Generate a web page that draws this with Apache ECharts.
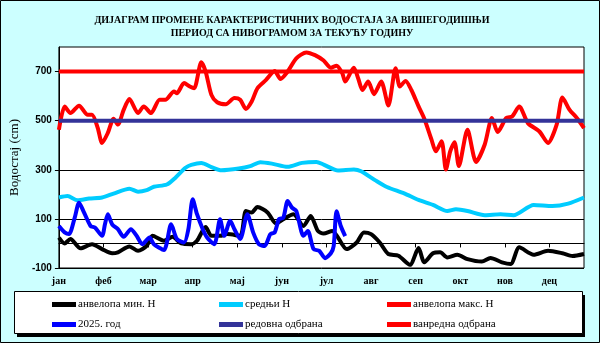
<!DOCTYPE html>
<html>
<head>
<meta charset="utf-8">
<script src="https://cdn.jsdelivr.net/npm/echarts@6/dist/echarts.min.js"></script>
<style>
html,body{margin:0;padding:0;background:#ccffff;}
#c{width:600px;height:343px;}
</style>
</head>
<body>
<div id="c"></div>
<script>
// ---- data ----
const titleLines = ['ДИЈАГРАМ ПРОМЕНЕ КАРАКТЕРИСТИЧНИХ ВОДОСТАЈА ЗА ВИШЕГОДИШЊИ', 'ПЕРИОД СА НИВОГРАМОМ ЗА ТЕКУЋУ ГОДИНУ'];
const yAxisName = 'Водостај (cm)';
const months = ['јан','феб','мар','апр','мај','јун','јул','авг','сеп','окт','нов','дец'];
const yTicks = [-100, 100, 300, 500, 700];
const seriesNames = ['анвелопа мин. H','средњи H','анвелопа макс. H','2025. год','редовна одбрана','ванредна одбрана'];

const maxDays = [0,4,8,14,20,23,27,30,34,38,41,45,49,55,59,64,70,74,80,82,87,91,94,99,102,106,110,116,122,126,130,134,138,144,150,154,159,165,172,178,184,189,193,197,199,205,208,211,215,219,224,229,234,237,241,245,250,254,259,262,266,269,272,275,278,284,290,296,301,305,311,315,320,326,334,340,346,350,355,360,365];
const maxVals = [463,558,531,561,524,524,470,409,450,508,484,544,588,531,558,531,585,585,619,612,653,639,632,738,700,605,575,567,592,585,548,578,632,666,702,670,700,754,778,767,745,716,724,693,659,716,673,625,659,608,659,562,713,639,662,625,558,508,423,375,416,301,375,412,315,463,332,403,511,454,511,517,558,490,456,409,484,594,544,511,470];

const meanDays = [0,6,13,21,30,38,49,55,61,66,75,81,88,92,99,106,113,125,133,140,148,159,169,179,184,194,205,210,220,228,240,250,260,270,276,284,296,307,316,330,343,354,365];
const meanVals = [187,193,176,183,187,203,223,211,217,231,240,268,308,320,328,311,298,305,315,331,325,312,328,332,321,297,301,294,257,230,204,177,157,132,139,132,115,119,115,157,152,162,187];

const minDays = [0,4,8,15,23,30,37,41,49,55,61,65,73,79,85,92,96,102,106,112,117,126,130,134,138,145,151,156,163,170,175,180,184,190,200,207,212,217,223,229,236,244,250,254,260,265,270,277,284,294,300,308,314,320,330,340,350,357,365];
const minVals = [24,0,18,-20,-3,-23,-40,-36,-12,-30,-10,31,11,27,0,-3,11,67,31,31,38,31,132,126,148,126,81,99,119,71,112,51,40,51,-23,4,45,38,4,-43,-50,-87,-19,-77,-40,-36,-57,-46,-64,-74,-59,-77,-84,-16,-46,-30,-40,-51,-43];

const curDays = [0,4,7,11,14,17,22,25,30,32,34,37,41,45,50,54,58,63,66,73,78,82,87,90,93,96,100,103,108,112,115,119,122,126,131,135,139,143,147,150,153,156,159,162,165,170,173,177,181,185,189,191,193,196,199];
const curVals = [71,45,38,105,166,132,71,65,31,78,119,78,58,27,58,31,-3,24,-3,-27,78,18,4,58,180,119,58,24,-3,99,31,92,58,18,119,45,-3,-10,38,45,99,105,173,146,132,31,51,-23,-30,-60,-40,-10,131,70,30];

const redovna = 500;
const vanredna = 700;
const yearEnd = 365;

// ---- chart ----
const pairs = (d, v) => d.map((x, i) => [x, v[i]]);
const monthTicks = months.map((m, i) => i * 31);
const serif = 'Liberation Serif';
const sans = 'Liberation Sans';

const lineSeries = (name, data, color, width, z) => ({
  name, type: 'line', data, smooth: 0.25, showSymbol: false, symbol: 'none',
  lineStyle: {color, width}, itemStyle: {color}, z, animation: false
});

const chart = echarts.init(document.getElementById('c'), null, {renderer: 'canvas'});
chart.setOption({
  backgroundColor: '#ccffff',
  animation: false,
  title: {
    text: titleLines.join('\n'),
    left: 287, top: 9, textAlign: 'center',
    textStyle: {fontFamily: serif, fontWeight: 'bold', fontSize: 10, lineHeight: 13, color: '#000'}
  },
  grid: {left: 47, right: 16, top: 47, bottom: 75, show: true, backgroundColor: '#fff', borderColor: '#000', borderWidth: 1, containLabel: false},
  xAxis: {
    type: 'value', min: 0, max: yearEnd,
    axisLine: {lineStyle: {color: '#000', width: 1}},
    axisTick: {show: true, length: 4, customValues: monthTicks, lineStyle: {color: '#000'}},
    axisLabel: {customValues: monthTicks, formatter: v => months[Math.round(v / 31)] || '', fontFamily: serif, fontWeight: 'bold', fontSize: 10, color: '#000', margin: 8},
    splitLine: {show: false}
  },
  yAxis: {
    type: 'value', min: -100, max: 800,
    name: yAxisName, nameLocation: 'middle', nameRotate: 90, nameGap: 22,
    nameTextStyle: {fontFamily: serif, fontSize: 13, color: '#000'},
    axisLine: {show: true, lineStyle: {color: '#000', width: 1}},
    axisTick: {show: true, length: 4, customValues: yTicks, lineStyle: {color: '#000'}},
    axisLabel: {customValues: yTicks, fontFamily: sans, fontWeight: 'bold', fontSize: 10, color: '#000', margin: 7},
    splitLine: {show: true, lineStyle: {color: '#000', width: 1}}
  },
  legend: [
    {data: [seriesNames[0], seriesNames[3]], left: 47, top: 294, orient: 'vertical', itemGap: 9},
    {data: [seriesNames[1], seriesNames[4]], left: 214, top: 294, orient: 'vertical', itemGap: 9},
    {data: [seriesNames[2], seriesNames[5]], left: 382, top: 294, orient: 'vertical', itemGap: 9}
  ].map(l => Object.assign(l, {
    icon: 'rect', itemWidth: 24, itemHeight: 5, z: 10,
    textStyle: {fontFamily: serif, fontSize: 11, color: '#000', padding: [0, 0, 0, -3]},
    selectedMode: false
  })),
  graphic: [
    {type: 'rect', shape: {x: 0.5, y: 0.5, width: 599, height: 342}, style: {fill: null, stroke: '#000', lineWidth: 1}, z: 100, silent: true},
    {type: 'rect', shape: {x: 17, y: 295, width: 568, height: 42}, style: {fill: '#000'}, z: 1, silent: true},
    {type: 'rect', shape: {x: 14.5, y: 291.5, width: 568, height: 42}, style: {fill: '#fff', stroke: '#000', lineWidth: 1}, z: 2, silent: true}
  ],
  series: [
    lineSeries(seriesNames[0], pairs(minDays, minVals), '#000000', 4, 2),
    lineSeries(seriesNames[1], pairs(meanDays, meanVals), '#00ccff', 4, 3),
    lineSeries(seriesNames[2], pairs(maxDays, maxVals), '#ff0000', 4, 4),
    lineSeries(seriesNames[3], pairs(curDays, curVals), '#0000ff', 4, 5),
    Object.assign(lineSeries(seriesNames[4], [[0, redovna], [yearEnd, redovna]], '#333399', 4, 6), {smooth: false}),
    Object.assign(lineSeries(seriesNames[5], [[0, vanredna], [yearEnd, vanredna]], '#ff0000', 4, 7), {smooth: false})
  ]
});
</script>
</body>
</html>
